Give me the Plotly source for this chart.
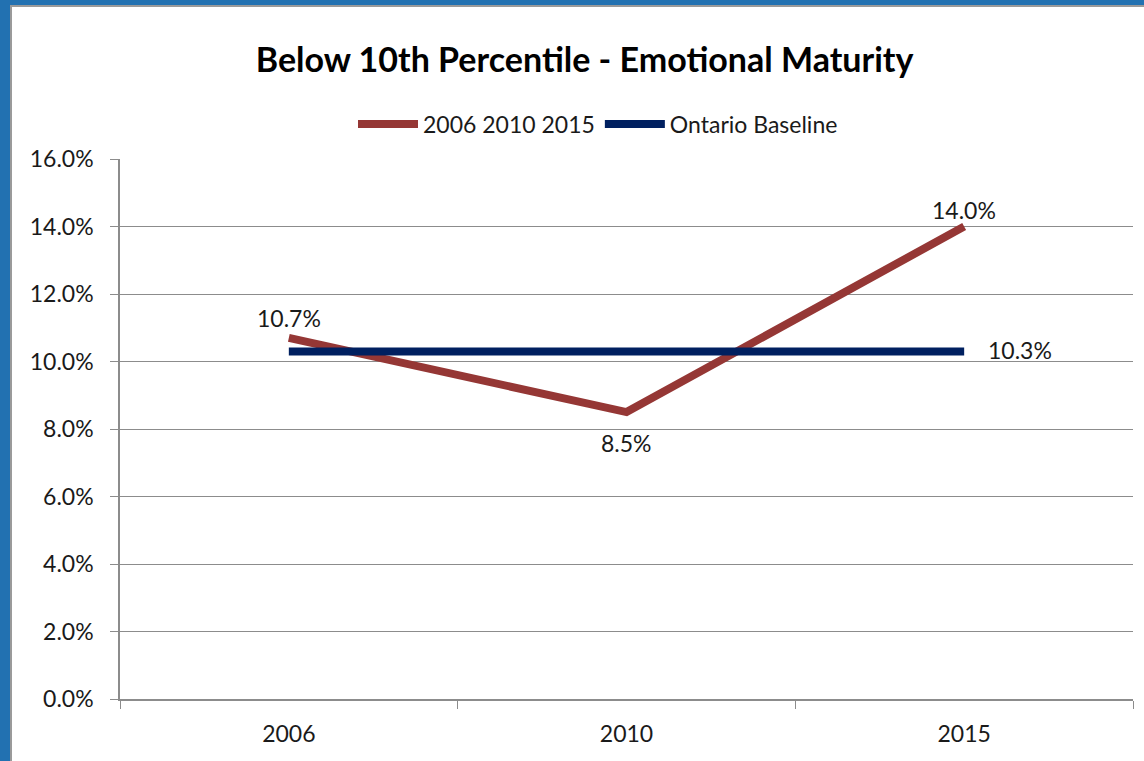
import plotly.graph_objects as go

years = ["2006", "2010", "2015"]
local_rate = [10.7, 8.5, 14.0]
ontario_baseline = [10.3, 10.3, 10.3]
y_ticks = [0, 2, 4, 6, 8, 10, 12, 14, 16]

FONT = "Lato, Open Sans, sans-serif"
TXT = "#1a1a1a"
FS = 23
W, H = 1144, 761
L, R, T, B = 120, 11, 159, 62
PW, PH = W - L - R, H - T - B


def px_x(p):
    return (p - L) / PW


def px_y(p):
    return (H - B - p) / PH


fig = go.Figure()
fig.add_trace(go.Scatter(
    x=years, y=local_rate, mode="lines", name="2006 2010 2015",
    line=dict(color="#953735", width=8),
))
fig.add_trace(go.Scatter(
    x=years, y=ontario_baseline, mode="lines", name="Ontario Baseline",
    line=dict(color="#002060", width=8),
))

# value labels for each point (x given as category index)
label_offsets = [(0, 20), (0, -31), (0, 17)]
annotations = []
for i, (v, (dx, dy)) in enumerate(zip(local_rate, label_offsets)):
    annotations.append(dict(x=i, y=v, xref="x", yref="y", text=f"{v:.1f}%", showarrow=False,
                            xshift=dx, yshift=dy, xanchor="center", yanchor="middle",
                            font=dict(family=FONT, size=FS, color=TXT)))
annotations.append(dict(x=len(years) - 1, y=ontario_baseline[-1], xref="x", yref="y",
                        text=f"{ontario_baseline[-1]:.1f}%",
                        showarrow=False, xshift=22, yshift=1, xanchor="left", yanchor="middle",
                        font=dict(family=FONT, size=FS, color=TXT)))

shapes = [
    # outer frame: blue band with a thin grey inner edge
    dict(type="rect", xref="paper", yref="paper", x0=px_x(0), x1=px_x(10), y0=px_y(H), y1=px_y(0),
         fillcolor="#2271b1", line_width=0, layer="below"),
    dict(type="rect", xref="paper", yref="paper", x0=px_x(0), x1=px_x(W), y0=px_y(5), y1=px_y(0),
         fillcolor="#2271b1", line_width=0, layer="below"),
    dict(type="rect", xref="paper", yref="paper", x0=px_x(10), x1=px_x(12), y0=px_y(H), y1=px_y(5),
         fillcolor="#9a9a9a", line_width=0, layer="below"),
    dict(type="rect", xref="paper", yref="paper", x0=px_x(10), x1=px_x(W), y0=px_y(7), y1=px_y(5),
         fillcolor="#9a9a9a", line_width=0, layer="below"),
]

fig.update_layout(
    width=W, height=H,
    margin=dict(l=L, r=R, t=T, b=B),
    paper_bgcolor="white", plot_bgcolor="white",
    title=dict(text="<b>Below 10th Percentile - Emotional Maturity</b>",
               font=dict(family=FONT, size=34, color="#000000"),
               x=0.511, xref="container", xanchor="center",
               y=1 - 60 / H, yref="container", yanchor="middle"),
    legend=dict(orientation="h", x=px_x(598), xanchor="center", y=px_y(124), yanchor="middle",
                font=dict(family=FONT, size=FS, color=TXT), itemwidth=60,
                bgcolor="rgba(0,0,0,0)"),
    xaxis=dict(type="category", tickson="boundaries", showgrid=False,
               showline=True, linecolor="#8c8c8c", linewidth=1.5,
               ticks="outside", ticklen=8, tickcolor="#8c8c8c", ticklabelstandoff=14,
               tickfont=dict(family=FONT, size=FS, color=TXT), range=[-0.5, 2.5]),
    yaxis=dict(range=[0, 16], tickvals=y_ticks, ticktext=[f"{v:.1f}%" for v in y_ticks],
               showgrid=True, gridcolor="#8c8c8c", gridwidth=1,
               showline=True, linecolor="#8c8c8c", linewidth=1.5,
               ticks="outside", ticklen=8, tickcolor="#8c8c8c", ticklabelstandoff=12,
               tickfont=dict(family=FONT, size=FS, color=TXT), zeroline=False),
    shapes=shapes,
    annotations=annotations,
    showlegend=True,
)

fig.write_html("out.html")
